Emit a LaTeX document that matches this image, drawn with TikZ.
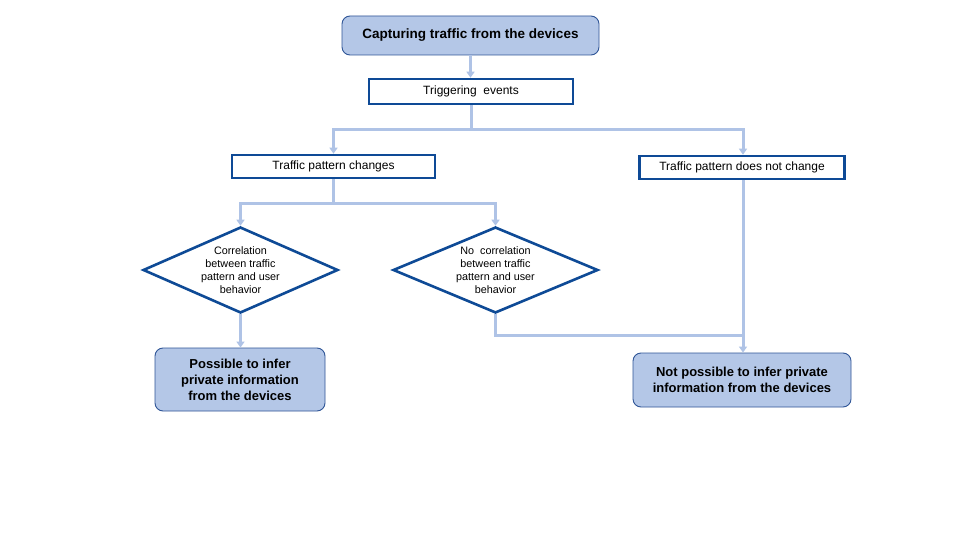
\documentclass[tikz,border=0pt]{standalone}
\usepackage{fontspec}
\setmainfont{Liberation Sans}
\usetikzlibrary{shapes.geometric,arrows.meta}
\definecolor{lb}{HTML}{B4C7E7}
\definecolor{cn}{HTML}{AFC3E6}
\definecolor{db}{HTML}{0E4A96}
\definecolor{rb}{HTML}{2F5597}
\begin{document}
\begin{tikzpicture}[x=1pt,y=-1pt,
  termbox/.style={draw=rb, line width=0.9pt, fill=lb, rounded corners=8pt, inner sep=0pt, align=center, font=\fontsize{13}{16}\selectfont\bfseries},
  stepbox/.style={draw=db, line width=2.6pt, fill=white, inner sep=0pt, align=center, font=\fontsize{12}{14}\selectfont},
  decbox/.style={diamond, draw=db, line width=2.6pt, fill=white, inner sep=0pt, aspect=2.27},
  dectext/.style={inner sep=0pt, align=center, font=\fontsize{10.8}{13}\selectfont},
  conn/.style={draw=cn, line width=3pt},
  arr/.style={-{Triangle[width=8pt,length=6pt]}}]
\useasboundingbox (0,0) rectangle (960,540);
\fill[white] (0,0) rectangle (960,540);

\node[termbox, minimum width=257pt, minimum height=39pt, font=\fontsize{13.5}{16}\selectfont\bfseries] (cap) at (470.5,35.5) {Capturing traffic from the devices};
\node[stepbox, minimum width=204pt, minimum height=25pt] (trig) at (471,91.5) {Triggering\ \ events};
\node[stepbox, minimum width=203pt, minimum height=23pt] (chg) at (333.5,166.5) {Traffic pattern changes};
\node[stepbox, minimum width=205pt, minimum height=23pt] (nochg) at (742,167.5) {Traffic pattern does not change};
\node[decbox, minimum width=195pt, minimum height=86pt] (ld) at (240.5,270) {};
\node[dectext] (ldt) at (ld.center) {Correlation\\between traffic\\pattern and user\\behavior};
\node[decbox, minimum width=205pt, minimum height=86pt] (rd) at (495.5,270) {};
\node[dectext] (rdt) at (rd.center) {No\ \ correlation\\between traffic\\pattern and user\\behavior};
\node[termbox, minimum width=170pt, minimum height=63pt] (poss) at (240,379.5) {Possible to infer\\private information\\from the devices};
\node[termbox, minimum width=218pt, minimum height=54pt] (notposs) at (742,380) {Not possible to infer private\\information from the devices};

\coordinate (j1) at (471,130);
\coordinate (j2) at (333.5,203);
\coordinate (j3) at (743,335);

\draw[conn,arr] (cap.south) -- (cap.south |- trig.north);
\draw[conn] (trig.south) -- (j1);
\draw[conn,arr] (j1) -| (chg.north);
\draw[conn,arr] (j1) -| ([xshift=1pt]nochg.north);
\draw[conn] (chg.south) -- (j2);
\draw[conn,arr] (j2) -| (ld.north);
\draw[conn,arr] (j2) -| (rd.north);
\draw[conn,arr] (ld.south) -- (ld.south |- poss.north);
\draw[conn] (rd.south) |- (j3);
\draw[conn,arr] ([xshift=1pt]nochg.south) -- ([xshift=1pt]nochg.south |- notposs.north);
\end{tikzpicture}
\end{document}
